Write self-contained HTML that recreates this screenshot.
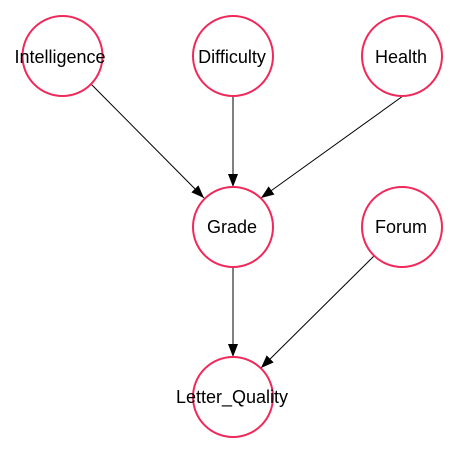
<!DOCTYPE html>
<html><head><meta charset="utf-8"><style>
html,body{margin:0;padding:0;background:#fff;width:458px;height:452px;overflow:hidden}
text{font-family:"Liberation Sans",Arial,sans-serif;font-size:18px;fill:#000}
</style></head><body>
<svg width="458" height="452" viewBox="0 0 458 452" xmlns="http://www.w3.org/2000/svg">
<defs><marker id="a" markerWidth="13" markerHeight="10" refX="13" refY="5" orient="auto" markerUnits="userSpaceOnUse"><path d="M0,0 L13,5 L0,10 z" fill="#000"/></marker></defs>
<g stroke="#000" stroke-width="1" marker-end="url(#a)">
<line x1="91" y1="84" x2="204" y2="198"/>
<line x1="233" y1="96" x2="233" y2="187"/>
<line x1="403" y1="96" x2="261" y2="198"/>
<line x1="233" y1="267" x2="233" y2="357"/>
<line x1="374" y1="256" x2="261" y2="368"/>
</g>
<g fill="#fff" stroke="#f0295a" stroke-width="2">
<circle cx="62.5" cy="56" r="40"/>
<circle cx="233" cy="56" r="40"/>
<circle cx="402" cy="56" r="40"/>
<circle cx="233" cy="227" r="40"/>
<circle cx="402" cy="227" r="40"/>
<circle cx="233" cy="397" r="40"/>
</g>
<g text-anchor="middle">
<text x="60" y="63">Intelligence</text>
<text x="232" y="63">Difficulty</text>
<text x="401" y="63">Health</text>
<text x="232" y="233">Grade</text>
<text x="401" y="233">Forum</text>
<text x="232" y="403">Letter_Quality</text>
</g>
</svg>
</body></html>
